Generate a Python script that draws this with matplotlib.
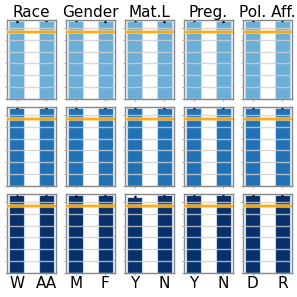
import numpy as np
import matplotlib
matplotlib.use('Agg')
from matplotlib import pyplot as plt

titles = ['Race', 'Gender', 'Mat.L', 'Preg.', 'Pol. Aff.']
groupLabels = [['W', 'AA'], ['M', 'F'], ['Y', 'N'], ['Y', 'N'], ['D', 'R']]
rowColors = ['#6baed6', '#2171b5', '#08306b']

# bar heights, one list per row, two bars per panel
row1 = [[1.055, 1.060], [1.060, 1.055], [1.060, 1.055], [1.060, 1.055], [1.060, 1.060]]
row2 = [[1.060, 1.060], [1.060, 1.060], [1.060, 1.060], [1.060, 1.060], [1.060, 1.060]]
row3 = [[1.058, 1.060], [1.058, 1.060], [1.045, 1.060], [1.060, 1.060], [1.055, 1.058]]
errs = [0.005, 0.004]
refLine = [0.965, 0.965, 0.965]
rows = [row1, row2, row3]

fig = plt.figure(figsize=(2.97, 2.97), dpi=100)
colLeft = [7, 66, 125, 184, 243]
rowTop = [20, 107, 194]
W, H = 49, 79

for r in range(3):
    for c in range(5):
        ax = fig.add_axes([colLeft[c] / 297, 1 - (rowTop[r] + H) / 297, W / 297, H / 297])
        vals = rows[r][c]
        ax.bar([0, 1], vals, width=0.5, color=rowColors[r], edgecolor='#c6dbef', linewidth=0.8,
               yerr=errs, error_kw=dict(ecolor='black', elinewidth=0.8, capsize=1))
        ax.axhline(refLine[r], color='#ffd27a', lw=3, alpha=0.7, zorder=4)
        ax.axhline(refLine[r], color='orange', lw=1.2, zorder=5)
        ax.set_ylim(0.4, 1.067)
        ax.set_yticks(np.arange(0.4, 1.01, 0.1))
        ax.set_yticklabels([])
        ax.yaxis.grid(True, color='#d0d0d0', lw=1, alpha=0.8)
        ax.set_axisbelow(False)
        ax.set_xticks([0, 1])
        ax.tick_params(length=1.5, width=0.5, color='#888888', pad=1)
        if r == 2:
            ax.set_xticklabels(groupLabels[c], fontsize=11)
        else:
            ax.set_xticklabels([])
        if r == 0:
            ax.set_title(titles[c], fontsize=11, pad=1)
        for s in ax.spines.values():
            s.set_color('#888888')
            s.set_linewidth(1)

plt.savefig('out.png', dpi=100)
